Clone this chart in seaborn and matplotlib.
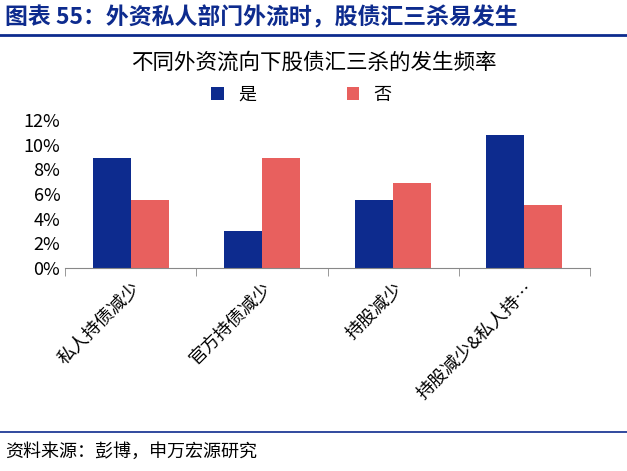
import matplotlib
matplotlib.use("Agg")
import matplotlib.pyplot as plt
import seaborn as sns
import pandas as pd
import numpy as np

plt.rcParams["font.family"] = "Noto Sans CJK SC"

categories = ["私人持债减少", "官方持债减少", "持股减少", "持股减少&私人持…"]
yes_vals = [8.9, 3.0, 5.5, 10.8]
no_vals = [5.5, 8.9, 6.9, 5.1]
series = ["是", "否"]
colors = ["#0D2B8E", "#E8605E"]

df = pd.DataFrame({
    "cat": categories * 2,
    "val": yes_vals + no_vals,
    "s": [series[0]] * 4 + [series[1]] * 4,
})

fig = plt.figure(figsize=(6.27, 4.71), dpi=100)
ax = fig.add_axes([0.104, 0.431, 0.837, 0.314])
sns.barplot(data=df, x="cat", y="val", hue="s", palette=colors, ax=ax,
            width=0.58, saturation=1, gap=0.0)

ax.set_ylim(0, 12)
ax.set_yticks(range(0, 13, 2))
ax.set_yticklabels([f"{v}%" for v in range(0, 13, 2)], fontsize=13)
ax.set_xlabel("")
ax.set_ylabel("")
ax.set_xticks(range(4))
ax.set_xticklabels(categories, rotation=45, ha="right", rotation_mode="anchor", fontsize=13)
ax.tick_params(axis="x", length=0, pad=8)
ax.set_xticks(np.arange(-0.5, 4.0, 1), minor=True)
ax.tick_params(axis="x", which="minor", length=6, color="#888888")
ax.tick_params(axis="y", length=0)
for s in ["top", "right", "left"]:
    ax.spines[s].set_visible(False)
ax.spines["bottom"].set_color("#888888")
ax.set_xlim(-0.5, 3.5)

ax.legend(loc="lower center", bbox_to_anchor=(0.45, 1.0), ncol=2, frameon=False,
          fontsize=13, handlelength=0.7, handleheight=0.7, columnspacing=5)

fig.text(0.5, 0.855, "不同外资流向下股债汇三杀的发生频率", ha="center", fontsize=15.5)
fig.text(0.008, 0.962, "图表 55：外资私人部门外流时，股债汇三杀易发生", fontsize=16.5,
         fontweight="bold", color="#0D2B8E", va="center")
fig.add_artist(plt.Line2D([0.0, 1.0], [0.925, 0.925], color="#0D2B8E", lw=2))
fig.add_artist(plt.Line2D([0.0, 1.0], [0.083, 0.083], color="#0D2B8E", lw=1.2))
fig.text(0.008, 0.04, "资料来源：彭博，申万宏源研究", fontsize=13, va="center")

fig.savefig("out.png", dpi=100)
